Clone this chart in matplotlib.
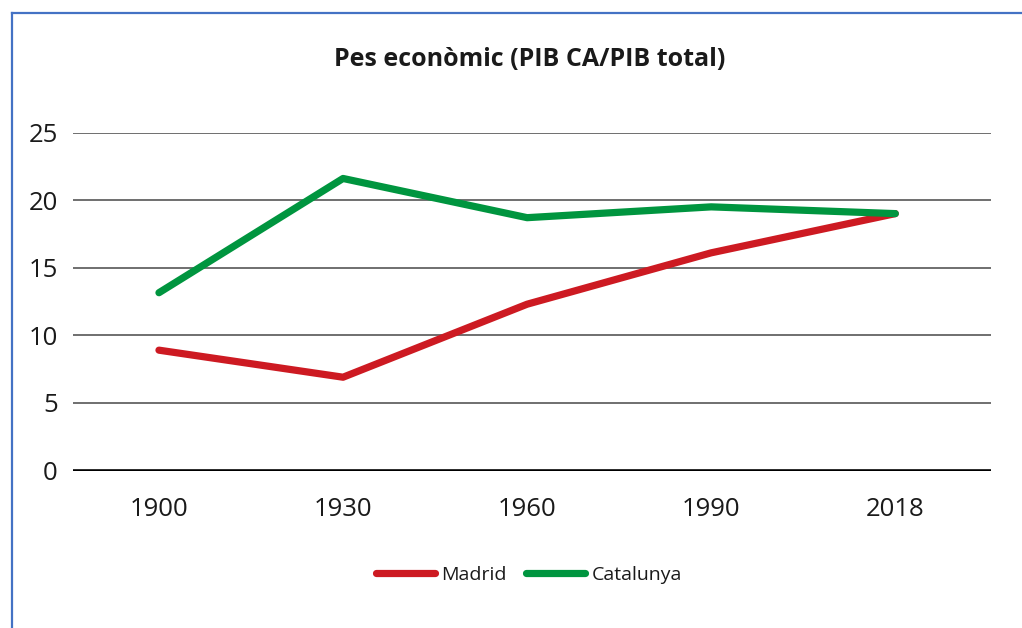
import matplotlib
matplotlib.use("Agg")
import matplotlib.pyplot as plt
from matplotlib.lines import Line2D

plt.rcParams['font.family'] = ['Open Sans', 'DejaVu Sans']

years = ["1900", "1930", "1960", "1990", "2018"]
madrid = [8.9, 6.9, 12.3, 16.1, 19.0]
catalunya = [13.15, 21.6, 18.7, 19.5, 19.0]
yticks = [0, 5, 10, 15, 20, 25]
title = "Pes econòmic (PIB CA/PIB total)"

W, H = 1022, 628
fig = plt.figure(figsize=(W / 100, H / 100), dpi=100)
fig.patch.set_facecolor("white")

x0, x1 = 73, 991
ytop, ybot = 132.5, 470.5
ax = fig.add_axes([x0 / W, 1 - ybot / H, (x1 - x0) / W, (ybot - ytop) / H])

xs = list(range(len(years)))
red = "#CD1A22"
green = "#00953F"
ax.plot(xs, madrid, color=red, lw=5.2, solid_capstyle="round", solid_joinstyle="round", label="Madrid", zorder=3)
ax.plot(xs, catalunya, color=green, lw=5.2, solid_capstyle="round", solid_joinstyle="round", label="Catalunya", zorder=3)

ax.set_xlim(-0.467, 4.52)
ax.set_ylim(0, 25)
ax.set_yticks(yticks)
ax.set_xticks(xs)
ax.set_xticklabels(years)
for s in ax.spines.values():
    s.set_visible(False)
for v in yticks[1:]:
    ax.axhline(v, color="#6F6F6F", lw=1.4, zorder=1)
ax.axhline(0, color="black", lw=2.6, zorder=2)
ax.tick_params(axis="both", length=0, labelsize=18.5, labelcolor="#1A1A1A")
ax.tick_params(axis="y", pad=11)
ax.tick_params(axis="x", pad=19)

fig.text(530 / W, 1 - 60 / H, title, ha="center", va="center", fontsize=18, fontweight="bold", color="#1A1A1A")

leg = fig.legend(loc="center", bbox_to_anchor=(529 / W, 1 - 575 / H), ncol=2, frameon=False,
                 fontsize=14, handlelength=3.0, handletextpad=0.35, columnspacing=1.0)
for t in leg.get_texts():
    t.set_color("#1A1A1A")

border = "#4472C4"
fig.add_artist(Line2D([12 / W, 12 / W], [0, 1 - 13 / H], transform=fig.transFigure, color=border, lw=1.6))
fig.add_artist(Line2D([12 / W, 1], [1 - 13 / H, 1 - 13 / H], transform=fig.transFigure, color=border, lw=1.6))

fig.savefig("out.png", dpi=100)
